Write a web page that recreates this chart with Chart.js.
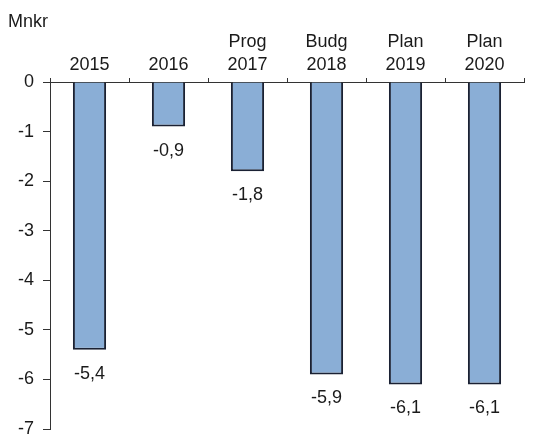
<!DOCTYPE html>
<html lang="sv">
  <head>
    <meta charset="UTF-8" />
    <title>Mnkr</title>
    <script src="https://cdn.jsdelivr.net/npm/chart.js"></script>
    <style>
      body {
        margin: 0;
        background: #fff;
      }
      .chart-container {
        position: relative;
        width: 534px;
        height: 434px;
      }
    </style>
  </head>
  <body>
    <div class="chart-container">
      <canvas id="resultChart" width="534" height="434"></canvas>
    </div>

    <script>
      const topLines = ["", "", "Prog", "Budg", "Plan", "Plan"]
      const years = ["2015", "2016", "2017", "2018", "2019", "2020"]
      const values = [-5.4, -0.9, -1.8, -5.9, -6.1, -6.1]
      const yTicks = [0, -1, -2, -3, -4, -5, -6, -7]

      const font = "'Liberation Sans', Arial, sans-serif"
      const textColor = "#1a1a1a"

      // value labels under each bar, swedish decimal comma
      const valueLabels = {
        id: "valueLabels",
        afterDatasetsDraw(chart) {
          const ctx = chart.ctx
          ctx.save()
          ctx.font = "18px " + font
          ctx.fillStyle = textColor
          ctx.textAlign = "center"
          ctx.textBaseline = "middle"
          chart.getDatasetMeta(0).data.forEach((bar, i) => {
            const txt = values[i].toFixed(1).replace(".", ",")
            ctx.fillText(txt, bar.x, bar.y + 24)
          })
          ctx.restore()
        },
      }

      const unitLabel = {
        id: "unitLabel",
        afterDraw(chart) {
          const ctx = chart.ctx
          ctx.save()
          ctx.font = "18px " + font
          ctx.fillStyle = textColor
          ctx.textBaseline = "middle"
          ctx.fillText("Mnkr", 8, 22)
          ctx.restore()
        },
      }

      const ctx = document.getElementById("resultChart").getContext("2d")
      new Chart(ctx, {
        type: "bar",
        data: {
          labels: years.map((y, i) => [topLines[i], y]),
          datasets: [
            {
              data: values,
              backgroundColor: "#8aaed6",
              borderColor: "#1a2133",
              borderWidth: 2,
              barPercentage: 0.42,
              categoryPercentage: 1,
            },
          ],
        },
        options: {
          responsive: false,
          animation: false,
          layout: { padding: { top: 0, right: 10, bottom: 5, left: 0 } },
          plugins: {
            legend: { display: false },
            tooltip: { enabled: false },
          },
          scales: {
            x: {
              position: "top",
              afterFit: (scale) => {
                scale.height = 82
              },
              grid: {
                offset: true,
                drawOnChartArea: false,
                tickLength: 4,
                color: "#333",
              },
              border: { color: "#333", width: 1 },
              ticks: {
                color: textColor,
                font: { family: font, size: 18, lineHeight: 1.25 },
                padding: 2,
                maxRotation: 0,
              },
            },
            y: {
              min: -7,
              max: 0,
              afterFit: (scale) => {
                scale.width = 50
                // let the -7 label run off the bottom like the original
                scale.paddingBottom = 0
                scale.paddingTop = 0
              },
              afterBuildTicks: (scale) => {
                scale.ticks = yTicks.map((v) => ({ value: v }))
              },
              grid: {
                drawOnChartArea: false,
                tickLength: 7,
                color: "#333",
              },
              border: { color: "#333", width: 1 },
              ticks: {
                color: textColor,
                font: { family: font, size: 18 },
                padding: 9,
              },
            },
          },
        },
        plugins: [valueLabels, unitLabel],
      })
    </script>
  </body>
</html>
